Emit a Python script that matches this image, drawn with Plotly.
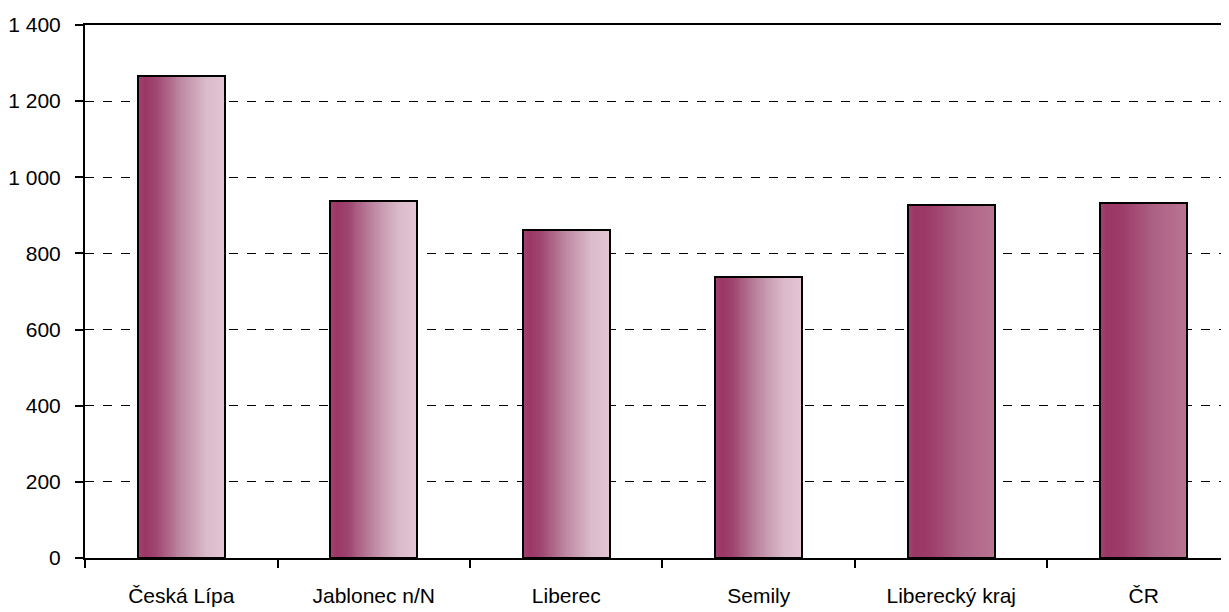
import plotly.graph_objects as go

categories = ["Česká Lípa", "Jablonec n/N", "Liberec", "Semily", "Liberecký kraj", "ČR"]
values = [1266, 938, 862, 737, 928, 932]
light_group = [True, True, True, True, False, False]
y_tickvals = [0, 200, 400, 600, 800, 1000, 1200, 1400]
y_ticktext = ["0", "200", "400", "600", "800", "1 000", "1 200", "1 400"]

scale_light = [(0.0, (162, 65, 110)), (0.08, (155, 55, 102)), (0.2, (158, 68, 110)),
               (0.5, (190, 138, 163)), (0.8, (220, 188, 204)), (1.0, (226, 196, 211))]
scale_dark = [(0.0, (162, 65, 110)), (0.08, (155, 55, 102)), (0.25, (156, 60, 104)),
              (0.6, (172, 96, 131)), (1.0, (184, 116, 147))]


def interp(scale, t):
    for (t0, c0), (t1, c1) in zip(scale[:-1], scale[1:]):
        if t0 <= t <= t1:
            f = (t - t0) / (t1 - t0) if t1 > t0 else 0
            return "rgb(%d,%d,%d)" % tuple(round(a + (b - a) * f) for a, b in zip(c0, c1))
    return "rgb(%d,%d,%d)" % scale[-1][1]


BAR_W = 0.45
N = 45
fig = go.Figure()
slice_w = BAR_W / N
for i in range(N):
    t = (i + 0.5) / N
    colors = [interp(scale_light if lg else scale_dark, t) for lg in light_group]
    fig.add_trace(go.Bar(
        x=categories, y=values,
        width=slice_w * 1.6,
        offset=-BAR_W / 2 + i * slice_w if i < N - 1 else BAR_W / 2 - slice_w * 1.6,
        marker=dict(color=colors, line=dict(width=0)),
        hoverinfo="skip", showlegend=False,
    ))
fig.add_trace(go.Bar(
    x=categories, y=values, width=BAR_W, offset=-BAR_W / 2,
    marker=dict(color="rgba(0,0,0,0)", line=dict(color="black", width=2)),
    showlegend=False,
))

font = dict(family="Liberation Sans, Arial, sans-serif", size=21, color="black")
# the page body has an 8px margin, so the figure is sized/offset to compensate
fig.update_layout(
    width=1221, height=604,
    margin=dict(l=77, r=0, t=17, b=54),
    paper_bgcolor="white", plot_bgcolor="white",
    barmode="overlay", bargap=0,
    font=font,
)
fig.update_xaxes(
    type="category", range=[-0.5, 5.443],
    showline=True, linecolor="black", linewidth=2, mirror=True,
    ticks="outside", tickson="boundaries", ticklen=8, tickwidth=2, tickcolor="black",
    ticklabelstandoff=18, showgrid=False,
)
fig.update_yaxes(
    range=[0, 1400], tickvals=y_tickvals, ticktext=y_ticktext,
    showline=True, linecolor="black", linewidth=2,
    ticks="outside", ticklen=8, tickwidth=2, tickcolor="black",
    ticklabelstandoff=10,
    showgrid=True, gridcolor="black", gridwidth=1, griddash="dash",
    zeroline=False,
)
fig.write_html("out.html")
